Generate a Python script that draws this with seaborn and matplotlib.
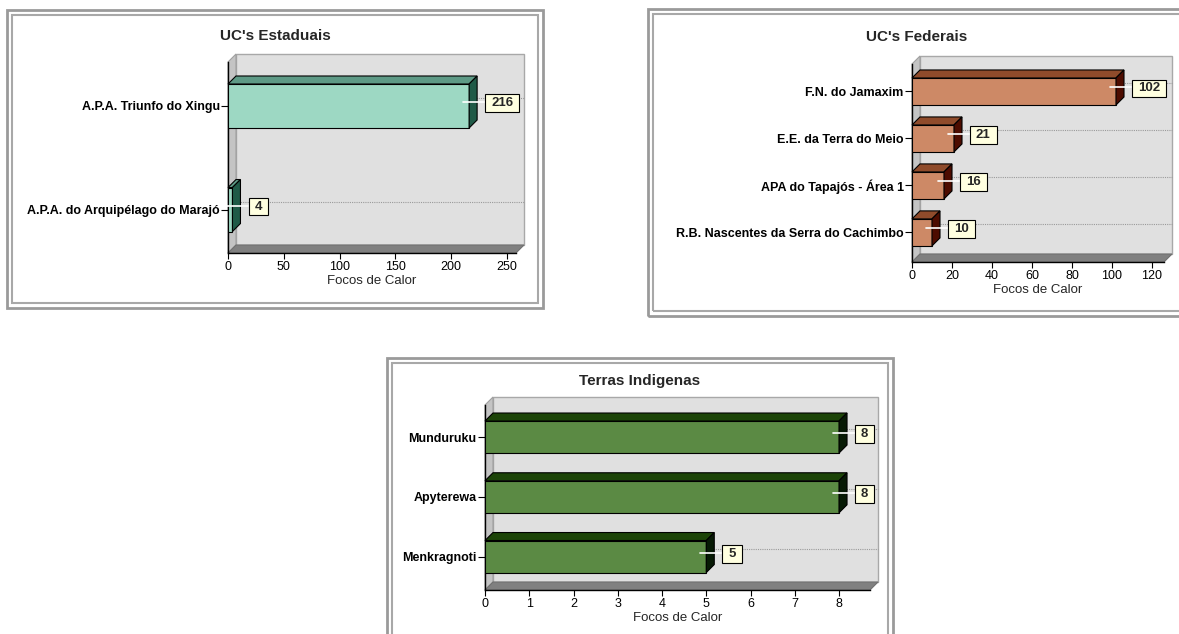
import pandas as pd
import seaborn as sns
import matplotlib.pyplot as plt
from matplotlib.patches import Rectangle, Polygon

# dados dos focos de calor
est_labels = ["A.P.A. Triunfo do Xingu", "A.P.A. do Arquipélago do Marajó"]
est_values = [216, 4]

fed_labels = ["F.N. do Jamaxim", "E.E. da Terra do Meio",
              "APA do Tapajós - Área 1", "R.B. Nascentes da Serra do Cachimbo"]
fed_values = [102, 21, 16, 10]

ti_labels = ["Munduruku", "Apyterewa", "Menkragnoti"]
ti_values = [8, 8, 5]

W, H = 1179, 634
DEPTH = 8  # profundidade do efeito 3D, em pixels

sns.set_style("white")
plt.rcParams["font.family"] = ["Liberation Sans", "DejaVu Sans"]

fig = plt.figure(figsize=(W / 100, H / 100), dpi=100)


def fig_rect(x0, y0, x1, y1):
    return [x0 / W, 1 - y1 / H, (x1 - x0) / W, (y1 - y0) / H]


def frame(x0, y0, x1, y1):
    for off, lw, col in [(0, 2, "#9a9a9a"), (5, 1.5, "#a8a8a8")]:
        fig.add_artist(Rectangle(((x0 + off) / W, 1 - (y1 - off) / H),
                                 (x1 - x0 - 2 * off) / W, (y1 - y0 - 2 * off) / H,
                                 transform=fig.transFigure, fill=False, ec=col, lw=lw))


def panel(title, labels, values, frame_box, plot_box, xmax, xticks, ylim, bar_w,
          colors, title_y):
    frame(*frame_box)
    fig.text((frame_box[0] + frame_box[2]) / 2 / W, 1 - title_y / H, title,
             ha="center", va="center", fontsize=11, fontweight="bold")

    ax = fig.add_axes(fig_rect(*plot_box))
    axw = plot_box[2] - plot_box[0]
    axh = plot_box[3] - plot_box[1]
    face, top, side = colors

    df = pd.DataFrame({"UC": labels, "Focos": values})
    sns.barplot(data=df, x="Focos", y="UC", ax=ax, orient="h", color=face,
                saturation=1, width=bar_w, edgecolor="black", linewidth=0.8,
                zorder=3)
    ax.set_xlim(0, xmax)
    ax.set_ylim(*ylim)
    ax.set_xticks(xticks)
    ax.set_facecolor("none")

    # conversao pixel -> dados / eixos
    dx = DEPTH * xmax / axw
    dy = DEPTH * (ylim[0] - ylim[1]) / axh
    dxa, dya = DEPTH / axw, DEPTH / axh

    # paredes do grafico 3D
    ax.add_patch(Rectangle((dxa, dya), 1, 1, transform=ax.transAxes, fc="#e0e0e0",
                           ec="#a8a8a8", lw=1, clip_on=False, zorder=0))
    ax.add_patch(Polygon([(0, 0), (dxa, dya), (dxa, 1 + dya), (0, 1)],
                         transform=ax.transAxes, fc="#c4c4c4", ec="#a0a0a0",
                         lw=0.8, clip_on=False, zorder=0))
    ax.add_patch(Polygon([(0, 0), (1, 0), (1 + dxa, dya), (dxa, dya)],
                         transform=ax.transAxes, fc="#808080", ec="#707070",
                         lw=0.8, clip_on=False, zorder=0))

    # linhas de grade pontilhadas na parede do fundo
    ax.hlines([i - dy for i in range(len(values))], dx, xmax + dx,
              colors="#9a9a9a", linestyles=(0, (1, 1)), lw=0.8, zorder=1,
              clip_on=False)

    # faces de cima e lateral das barras
    for i, (p, v) in enumerate(zip(ax.patches, values)):
        yt = p.get_y()
        yb = p.get_y() + p.get_height()
        ax.add_patch(Polygon([(0, yt), (v, yt), (v + dx, yt - dy), (dx, yt - dy)],
                             fc=top, ec="black", lw=0.8, zorder=3, clip_on=False))
        ax.add_patch(Polygon([(v, yt), (v + dx, yt - dy), (v + dx, yb - dy), (v, yb)],
                             fc=side, ec="black", lw=0.8, zorder=3, clip_on=False))

        yc = i - dy / 2
        pxx = xmax / axw
        ax.plot([v - 6 * pxx, v + 16 * pxx], [yc, yc], color="white", lw=1.2,
                zorder=4, clip_on=False)
        ax.annotate(str(v), xy=(v, yc), xytext=(22, -1), textcoords="offset pixels",
                    ha="left", va="center", fontsize=9.5, fontweight="bold",
                    bbox=dict(boxstyle="square,pad=0.45", mutation_aspect=0.5,
                              fc="#ffffe0", ec="black", lw=0.8),
                    zorder=5, annotation_clip=False)

    for s in ["top", "right"]:
        ax.spines[s].set_visible(False)
    for s in ["left", "bottom"]:
        ax.spines[s].set_color("black")
        ax.spines[s].set_linewidth(1)
    ax.tick_params(axis="x", length=4, width=0.8, labelsize=9, pad=2,
                   bottom=True, colors="black")
    ax.tick_params(axis="y", length=5, width=0.8, labelsize=9, pad=1,
                   left=True, colors="black")
    for t in ax.get_yticklabels():
        t.set_fontweight("bold")
    ax.set_ylabel("")
    ax.set_xlabel("Focos de Calor", fontsize=9.5, labelpad=1)
    return ax


panel("UC's Estaduais", est_labels, est_values,
      (7, 10, 543, 308), (228, 62, 516, 253), 258, range(0, 251, 50),
      (1.42, -0.425), 0.425, ("#9dd8c3", "#5e9a86", "#1f5a47"), 36)

panel("UC's Federais", fed_labels, fed_values,
      (648, 9, 1186, 316), (912, 64, 1164, 262), 126, range(0, 121, 20),
      (3.63, -0.585), 0.575, ("#cd8966", "#8f4b2b", "#4d0c00"), 37)

panel("Terras Indigenas", ti_labels, ti_values,
      (387, 358, 893, 660), (485, 405, 870, 590), 8.7, range(0, 9),
      (2.56, -0.536), 0.536, ("#5b8a44", "#1c4408", "#071a05"), 381)

plt.savefig("out.png", dpi=100)
